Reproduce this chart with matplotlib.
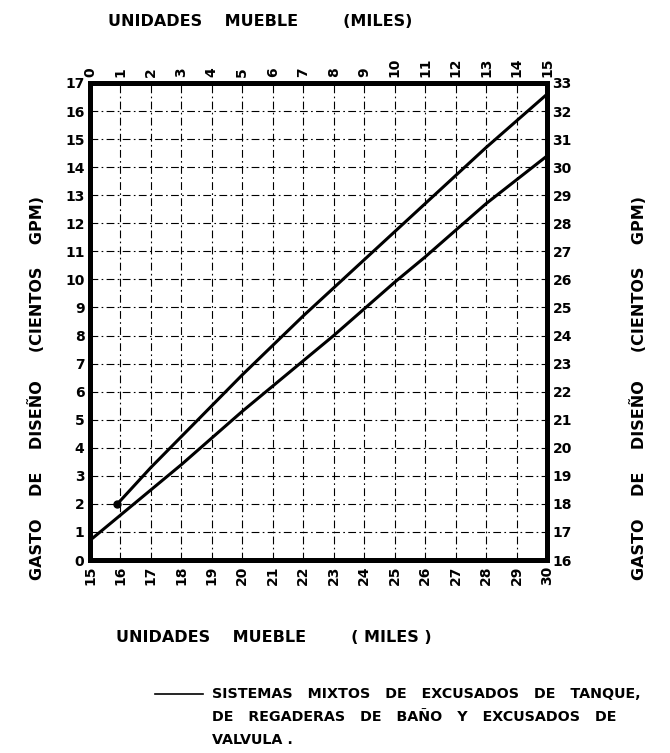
import matplotlib
matplotlib.use('Agg')
import matplotlib.pyplot as plt
from matplotlib.lines import Line2D

# curva superior: escala superior (miles de u.m.) contra escala izquierda (cientos gpm)
sup_x = [0.9, 2, 3, 4, 5, 6, 7, 8, 9, 10, 11, 12, 13, 14, 15]
sup_y = [2.0, 3.3, 4.4, 5.5, 6.6, 7.65, 8.7, 9.7, 10.7, 11.7, 12.7, 13.7, 14.7, 15.65, 16.6]

# curva inferior: escala inferior contra escala derecha
inf_x = [15, 16, 17, 18, 19, 20, 21, 22, 23, 24, 25, 26, 27, 28, 29, 30]
inf_y = [16.7, 17.6, 18.5, 19.4, 20.35, 21.3, 22.2, 23.1, 24.0, 24.95, 25.9,
         26.8, 27.75, 28.7, 29.55, 30.4]

top_ticks = list(range(0, 16))
bottom_ticks = list(range(15, 31))
left_ticks = list(range(0, 18))
right_ticks = list(range(16, 34))

W, H = 670, 753
fig = plt.figure(figsize=(W / 100, H / 100), dpi=100)
L, R, T, B = 90, 547, 83, 560
ax = fig.add_axes([L / W, 1 - B / H, (R - L) / W, (B - T) / H])

tick_font = dict(fontsize=10, fontweight='bold')

ax.set_xlim(15, 30)
ax.set_ylim(0, 17)
ax.set_xticks(bottom_ticks)
ax.set_yticks(left_ticks)
ax.set_xticklabels(bottom_ticks, rotation=90, **tick_font)
ax.set_yticklabels(left_ticks, **tick_font)
ax.tick_params(length=0, pad=4)
ax.grid(True, color='black', lw=0.8, ls=(0, (7, 3, 1.5, 3)))

axt = ax.twiny()
axt.set_xlim(0, 15)
axt.set_xticks(top_ticks)
axt.set_xticklabels(top_ticks, rotation=90, **tick_font)
axt.tick_params(length=0, pad=4)

axr = ax.twinx()
axr.set_ylim(16, 33)
axr.set_yticks(right_ticks)
axr.set_yticklabels(right_ticks, **tick_font)
axr.tick_params(length=0, pad=4)

for a in (axt, axr):
    for s in a.spines.values():
        s.set_visible(False)
for s in ax.spines.values():
    s.set_linewidth(3.6)

axt.plot(sup_x, sup_y, color='black', lw=2.2, solid_capstyle='round')
axt.plot(sup_x[:1], sup_y[:1], 'o', color='black', ms=5)
axr.plot(inf_x, inf_y, color='black', lw=2.2, solid_capstyle='round')

title_font = dict(fontsize=11.5, fontweight='bold', va='center', ha='left')
fig.text(108 / W, 1 - 21 / H, 'UNIDADES    MUEBLE        (MILES)', **title_font)
fig.text(116 / W, 1 - 638 / H, 'UNIDADES    MUEBLE        ( MILES )', **title_font)

ylab = 'GASTO    DE    DISEÑO     (CIENTOS    GPM)'
fig.text(37 / W, 1 - 388 / H, ylab, rotation=90, fontsize=11.5,
         fontweight='bold', ha='center', va='center')
fig.text(638 / W, 1 - 388 / H, ylab, rotation=90, fontsize=11.5,
         fontweight='bold', ha='center', va='center')

fig.add_artist(Line2D([155 / W, 203 / W], [1 - 694 / H, 1 - 694 / H],
                      color='black', lw=1.2))
leg_lines = ['SISTEMAS   MIXTOS   DE   EXCUSADOS   DE   TANQUE,',
             'DE   REGADERAS   DE   BAÑO   Y   EXCUSADOS   DE',
             'VALVULA .']
for i, t in enumerate(leg_lines):
    fig.text(212 / W, 1 - (694 + 23 * i) / H, t, fontsize=10.3,
             fontweight='bold', va='center', ha='left')

fig.savefig('out.png', dpi=100)
